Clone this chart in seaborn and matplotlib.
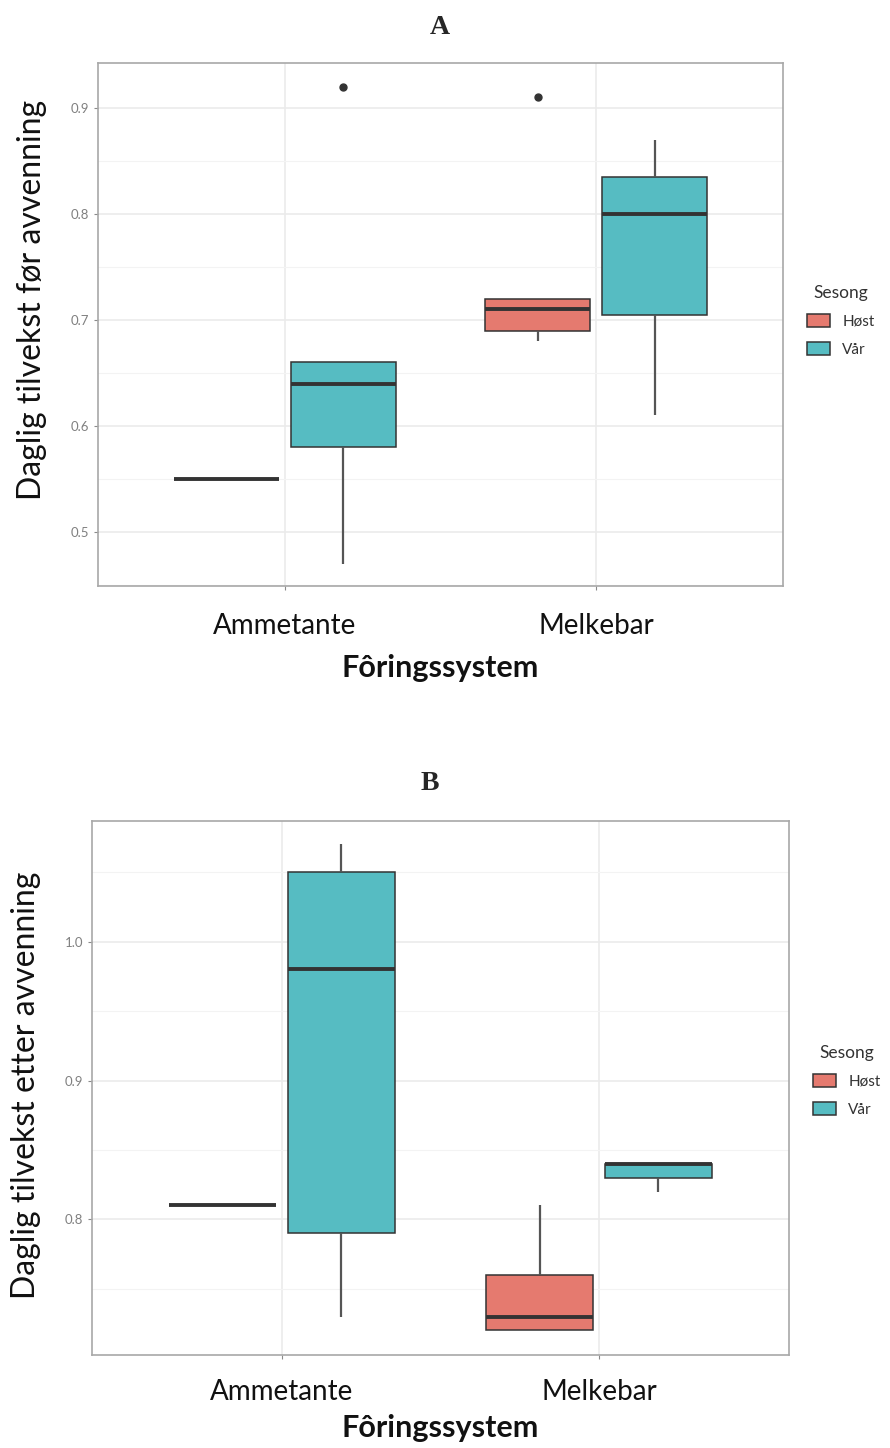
import pandas as pd
import matplotlib.pyplot as plt
import seaborn as sns
from matplotlib.ticker import MultipleLocator

sns.set_theme(style="white")
plt.rcParams['font.family'] = ['Lato', 'DejaVu Sans']

systems = ["Ammetante", "Melkebar"]
seasons = ["Høst", "Vår"]
colors = {"Høst": "#E57A6F", "Vår": "#56BCC2"}

a_amme_host = [0.55]
a_amme_var = [0.47, 0.58, 0.64, 0.66, 0.92]
a_melk_host = [0.68, 0.69, 0.71, 0.72, 0.91]
a_melk_var = [0.61, 0.705, 0.80, 0.835, 0.87]

# Panel B: daily gain after weaning
b_amme_host = [0.81]
b_amme_var = [0.73, 0.79, 0.98, 1.05, 1.07]
b_melk_host = [0.72, 0.72, 0.73, 0.76, 0.81]
b_melk_var = [0.82, 0.83, 0.84, 0.84, 0.84]


def to_frame(amme_host, amme_var, melk_host, melk_var):
    groups = [("Ammetante", "Høst", amme_host), ("Ammetante", "Vår", amme_var),
              ("Melkebar", "Høst", melk_host), ("Melkebar", "Vår", melk_var)]
    rows = []
    for system, season, values in groups:
        for v in values:
            rows.append({"system": system, "season": season, "value": v})
    return pd.DataFrame(rows)


def draw_panel(fig, rect, df, ylim, letter, letter_xy, ylabel, ylabel_xy, legend_xy,
               tick_pad, xlabel_pad):
    ax = fig.add_axes(rect)
    sns.boxplot(data=df, x="system", y="value", hue="season", order=systems,
                hue_order=seasons, palette=colors, saturation=1, width=0.75, gap=0.1,
                linewidth=1.1, linecolor="#333333", showcaps=False,
                medianprops=dict(linewidth=2.8, color="#333333"),
                whiskerprops=dict(linewidth=1.6, color="#555555"),
                flierprops=dict(marker="o", markersize=5, markerfacecolor="#333333",
                                markeredgecolor="#333333"),
                ax=ax)
    ax.set_xlim(-0.6, 1.6)
    ax.set_ylim(*ylim)
    ax.yaxis.set_major_locator(MultipleLocator(0.1))
    ax.yaxis.set_minor_locator(MultipleLocator(0.05))
    ax.set_axisbelow(True)
    ax.grid(which="major", color="#ebebeb", linewidth=1.2)
    ax.grid(which="minor", axis="y", color="#f3f3f3", linewidth=0.8)
    ax.tick_params(axis="y", which="major", labelsize=9.5, labelcolor="#808080",
                   color="#8a8a8a", length=3, width=0.8, left=True)
    ax.tick_params(axis="y", which="minor", length=0)
    ax.tick_params(axis="x", labelsize=20, color="#8a8a8a", length=3, width=0.8,
                   pad=tick_pad, bottom=True, labelcolor="#111111")
    for s in ax.spines.values():
        s.set_color("#a8a8a8")
        s.set_linewidth(1.2)
    ax.set_xlabel("Fôringssystem", fontsize=22, fontweight="bold",
                  labelpad=xlabel_pad, color="#111111")
    ax.set_ylabel("")
    fig.text(ylabel_xy[0], ylabel_xy[1], ylabel, rotation=90, ha="center",
             va="center", fontsize=23, color="#111111")
    fig.text(letter_xy[0], letter_xy[1], letter, ha="center", va="center",
             fontsize=20, fontweight="bold", family="Liberation Serif")
    sns.move_legend(ax, loc="upper left", bbox_to_anchor=legend_xy,
                    bbox_transform=fig.transFigure, title="Sesong", frameon=False,
                    fontsize=11, title_fontsize=12.5, handlelength=1.5,
                    handleheight=0.95, labelspacing=0.85, handletextpad=0.8,
                    borderpad=0.2, borderaxespad=0)
    leg = ax.get_legend()
    leg.get_title().set_color("#333333")
    for t in leg.get_texts():
        t.set_color("#333333")
    return ax


fig = plt.figure(figsize=(8.9, 14.48), dpi=100)

draw_panel(fig, [98 / 890, 1 - 586 / 1448, 685 / 890, 523 / 1448],
           to_frame(a_amme_host, a_amme_var, a_melk_host, a_melk_var),
           (0.449, 0.9425), "A", (440 / 890, 1 - 27 / 1448),
           "Daglig tilvekst før avvenning", (32 / 890, 1 - 300 / 1448),
           (804 / 890, 1 - 282 / 1448), 16.5, 11)

draw_panel(fig, [92 / 890, 1 - 1355 / 1448, 697 / 890, 534 / 1448],
           to_frame(b_amme_host, b_amme_var, b_melk_host, b_melk_var),
           (0.7023, 1.0869), "B", (430 / 890, 1 - 783 / 1448),
           "Daglig tilvekst etter avvenning", (26 / 890, 1 - 1085 / 1448),
           (810 / 890, 1 - 1042 / 1448), 14.5, 6)

fig.savefig("out.png", dpi=100, facecolor="white")
